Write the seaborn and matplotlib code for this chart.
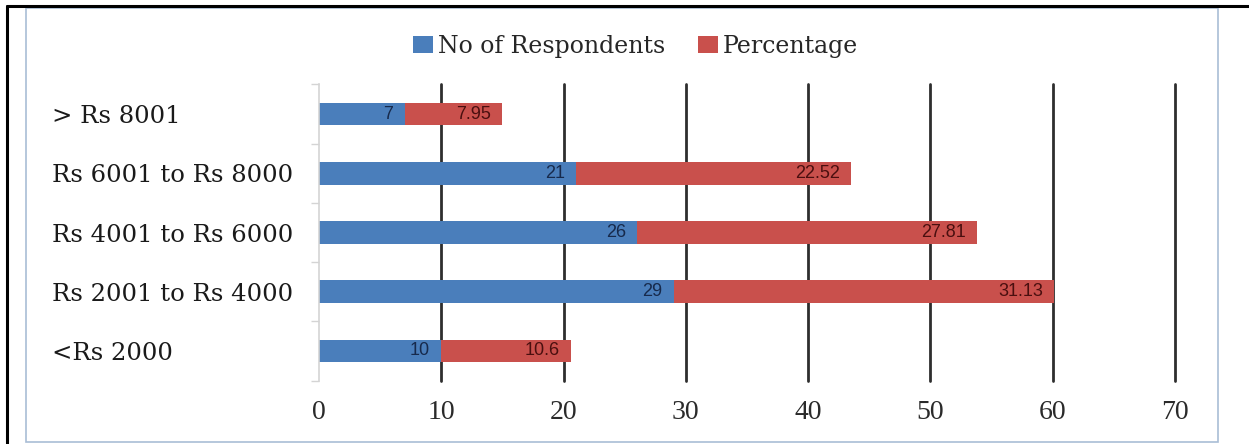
import matplotlib
matplotlib.use("Agg")
import matplotlib.pyplot as plt
import seaborn as sns
import pandas as pd
from matplotlib.lines import Line2D
from matplotlib.patches import Rectangle, Patch
from matplotlib.ticker import FixedLocator, MultipleLocator

# Monthly income groups and survey results
income_groups = ["> Rs 8001", "Rs 6001 to Rs 8000", "Rs 4001 to Rs 6000",
                 "Rs 2001 to Rs 4000", "<Rs 2000"]
respondents = [7, 21, 26, 29, 10]
percentage = [7.95, 22.52, 27.81, 31.13, 10.6]
x_ticks = [0, 10, 20, 30, 40, 50, 60, 70]

BLUE = "#4a7ebb"
RED = "#c9504c"
BLUE_TXT = "#172a4c"
RED_TXT = "#4a0f0f"
SERIF = ["DejaVu Serif", "Liberation Serif"]

df = pd.DataFrame({
    "group": income_groups,
    "respondents": respondents,
    "percentage": percentage,
})
df["total"] = df["respondents"] + df["percentage"]

sns.set_theme(style="white")
plt.rcParams["font.family"] = ["Liberation Serif", "DejaVu Serif"]

fig = plt.figure(figsize=(12.49, 4.44), dpi=100)
fig.patch.set_facecolor("white")
ax = fig.add_axes([0.2554, 0.1428, 0.6853, 0.667])

# stacked horizontal bars: full length in red, respondents overlaid in blue
sns.barplot(data=df, x="total", y="group", order=income_groups, color=RED,
            width=0.38, saturation=1, orient="h", ax=ax, zorder=3, linewidth=0)
sns.barplot(data=df, x="respondents", y="group", order=income_groups, color=BLUE,
            width=0.38, saturation=1, orient="h", ax=ax, zorder=4, linewidth=0)

label_font = dict(family=["Liberation Sans", "DejaVu Sans"], fontsize=13)
for i, (r, p) in enumerate(zip(respondents, percentage)):
    ax.annotate(f"{r:g}", xy=(r, i), xytext=(-8, 0), textcoords="offset points",
                ha="right", va="center", color=BLUE_TXT, zorder=6, **label_font)
    ax.annotate(f"{p:g}", xy=(r + p, i), xytext=(-8, 0), textcoords="offset points",
                ha="right", va="center", color=RED_TXT, zorder=6, **label_font)

ax.set_xlim(0, 70)
ax.set_ylim(len(income_groups) - 0.5, -0.5)
ax.xaxis.set_major_locator(FixedLocator(x_ticks))
ax.set_xlabel("")
ax.set_ylabel("")

# vertical grid lines at every ten units, except at zero
for xv in x_ticks[1:]:
    ax.axvline(xv, color="#2e2e2e", lw=2.0, zorder=2, clip_on=False)

for side in ["top", "right", "bottom"]:
    ax.spines[side].set_visible(False)
ax.spines["left"].set_color("#d4d4d4")
ax.spines["left"].set_linewidth(1.2)
ax.spines["left"].set_zorder(5)

ax.tick_params(axis="x", length=0, pad=14, labelsize=20, labelcolor="#2a2a2a")
ax.tick_params(axis="y", which="major", length=0, pad=192, labelcolor="#1a1a1a")
for lbl in ax.get_yticklabels():
    lbl.set_horizontalalignment("left")
    lbl.set_fontfamily(SERIF)
    lbl.set_fontsize(17.5)
ax.yaxis.set_minor_locator(MultipleLocator(1, offset=0.5))
ax.tick_params(axis="y", which="minor", length=6, width=1, color="#d4d4d4", left=True)

# legend
handles = [Patch(facecolor=BLUE, edgecolor="none", label="No of Respondents"),
           Patch(facecolor=RED, edgecolor="none", label="Percentage")]
fig.legend(handles=handles, loc="center", bbox_to_anchor=(0.509, 0.896), ncol=2,
           frameon=False, handlelength=0.85, handleheight=0.75,
           handletextpad=0.2, columnspacing=1.4,
           prop=dict(family=SERIF, size=17))

# page frame and chart border
fig.add_artist(Line2D([7 / 1249, 1.0], [1 - 6 / 444, 1 - 6 / 444],
                      transform=fig.transFigure, color="black", lw=2.2))
fig.add_artist(Line2D([7 / 1249, 7 / 1249], [0, 1 - 6 / 444],
                      transform=fig.transFigure, color="black", lw=2.2))
fig.add_artist(Rectangle((26 / 1249, 2 / 444), (1218 - 26) / 1249, (436 - 2) / 444,
                         transform=fig.transFigure, fill=False,
                         edgecolor="#a9bdd6", lw=1.2))

fig.savefig("out.png", dpi=100, facecolor="white")
